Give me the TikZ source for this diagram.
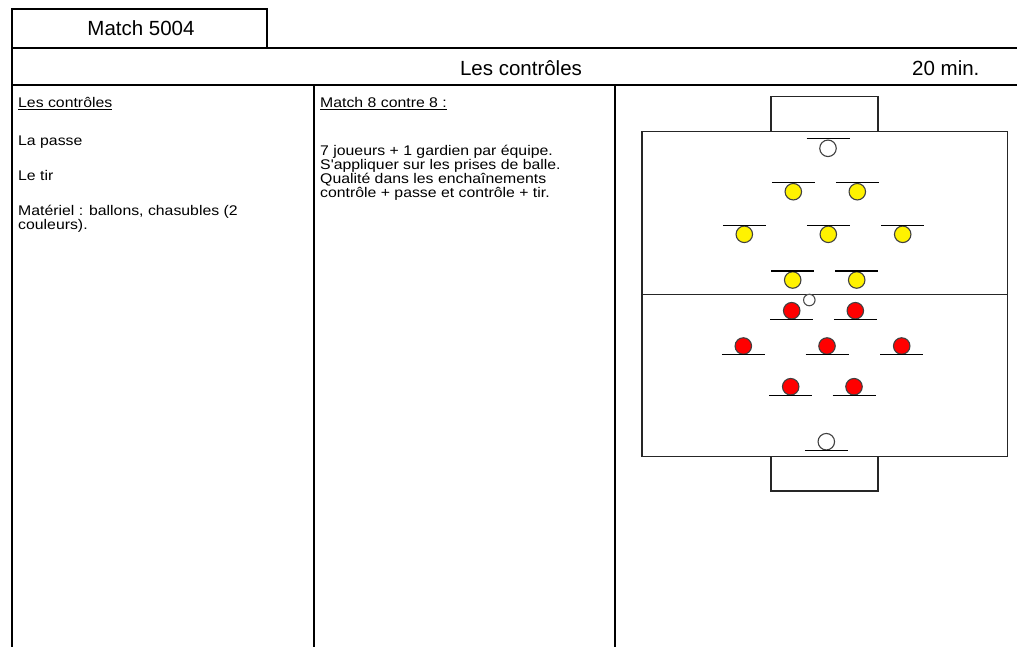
\documentclass[tikz,border=0pt]{standalone}
\usepackage{fontspec}
\setmainfont{Liberation Sans}
\newfontfamily\bodyfont[FakeStretch=1.13]{Liberation Sans}
\begin{document}
\begin{tikzpicture}[x=1pt,y=-1pt,
  frame/.style={line width=2.5pt, black, line cap=rect},
  pitch/.style={line width=1.4pt, black!85},
  bar/.style={line width=1.3pt, black},
  body/.style={anchor=base west, inner sep=0pt, font=\bodyfont\fontsize{14}{14}\selectfont},
  head/.style={inner sep=0pt, font=\fontsize{20.5}{24}\selectfont},
  player/.style={circle, draw=black!75, line width=1.1pt, minimum size=16.5pt, inner sep=0pt},
  yel/.style={player, fill=yellow},
  rd/.style={player, fill=red},
  gk/.style={player, fill=white},
  ball/.style={circle, draw=black!70, line width=1.1pt, fill=white, minimum size=11.5pt, inner sep=0pt}
]
\useasboundingbox (0,0) rectangle (1017,646);
\fill[white] (0,0) rectangle (1017,646);

% frame
\draw[frame] (12,48) -- (12,9) -- (267,9) -- (267,48);
\draw[frame] (12,48) -- (1017,48);
\draw[frame] (12,85) -- (1017,85);
\draw[frame] (12,48) -- (12,646);
\draw[frame] (314,85) -- (314,646);
\draw[frame] (615,85) -- (615,646);

% header texts
\node[head, anchor=base] (title) at (141,35) {Match 5004};
\node[head, anchor=base] (theme) at (521,75.5) {Les contrôles};
\node[head, anchor=base west] (dur) at (912,75.5) {20 min.};

% column 1
\node[body] (c1h) at (18,107.5) {Les contrôles};
\draw[line width=1pt] ([yshift=-2pt]c1h.base west) -- ([yshift=-2pt]c1h.base east);
\node[body] (c1a) at (18,145) {La passe};
\node[body] (c1b) at (18,180) {Le tir};
\node[body] (c1c) at (18,215) {Matériel : ballons, chasubles (2};
\node[body] (c1d) at (18,229) {couleurs).};

% column 2
\node[body] (c2h) at (320,107.5) {Match 8 contre 8 :};
\draw[line width=1pt] ([yshift=-2pt]c2h.base west) -- ([yshift=-2pt]c2h.base east);
\node[body] (c2a) at (320,155) {7 joueurs + 1 gardien par équipe.};
\node[body] (c2b) at (320,169) {S'appliquer sur les prises de balle.};
\node[body] (c2c) at (320,183) {Qualité dans les enchaînements};
\node[body] (c2d) at (320,197) {contrôle + passe et contrôle + tir.};

% pitch
\draw[pitch] (642,131.7) rectangle (1007.5,456.7);
\draw[pitch] (642,294.5) -- (1007.5,294.5);
\draw[pitch] (771,131.7) -- (771,96.7) -- (878,96.7) -- (878,131.7);
\draw[pitch] (771,456.7) -- (771,491) -- (878,491) -- (878,456.7);

% yellow team (bar above)
\foreach \n/\x/\y in {y1/793.3/191.7, y2/857.3/191.7, y3/744.3/234.3, y4/828.3/234.3, y5/902.7/234.3, y6/792.7/280, y7/856.7/280}{
  \node[yel] (\n) at (\x,\y) {};
  \draw[bar] ([xshift=-21.5pt,yshift=9pt]\n.center) -- ([xshift=21.5pt,yshift=9pt]\n.center);
}
\node[gk] (gy) at (828,148.3) {};
\draw[bar] ([xshift=-21.5pt,yshift=10pt]gy.center) -- ([xshift=21.5pt,yshift=10pt]gy.center);

% red team (bar below)
\foreach \n/\x/\y in {r1/791.7/310.7, r2/855.3/310.7, r3/743.3/346, r4/827/346, r5/901.7/346, r6/790.7/386.7, r7/854/386.7}{
  \node[rd] (\n) at (\x,\y) {};
  \draw[bar] ([xshift=-21.5pt,yshift=-8.7pt]\n.center) -- ([xshift=21.5pt,yshift=-8.7pt]\n.center);
}
\node[gk] (gr) at (826.3,441.7) {};
\draw[bar] ([xshift=-21.5pt,yshift=-9pt]gr.center) -- ([xshift=21.5pt,yshift=-9pt]gr.center);

% ball
\node[ball] (b) at (809.3,300) {};
\end{tikzpicture}
\end{document}
